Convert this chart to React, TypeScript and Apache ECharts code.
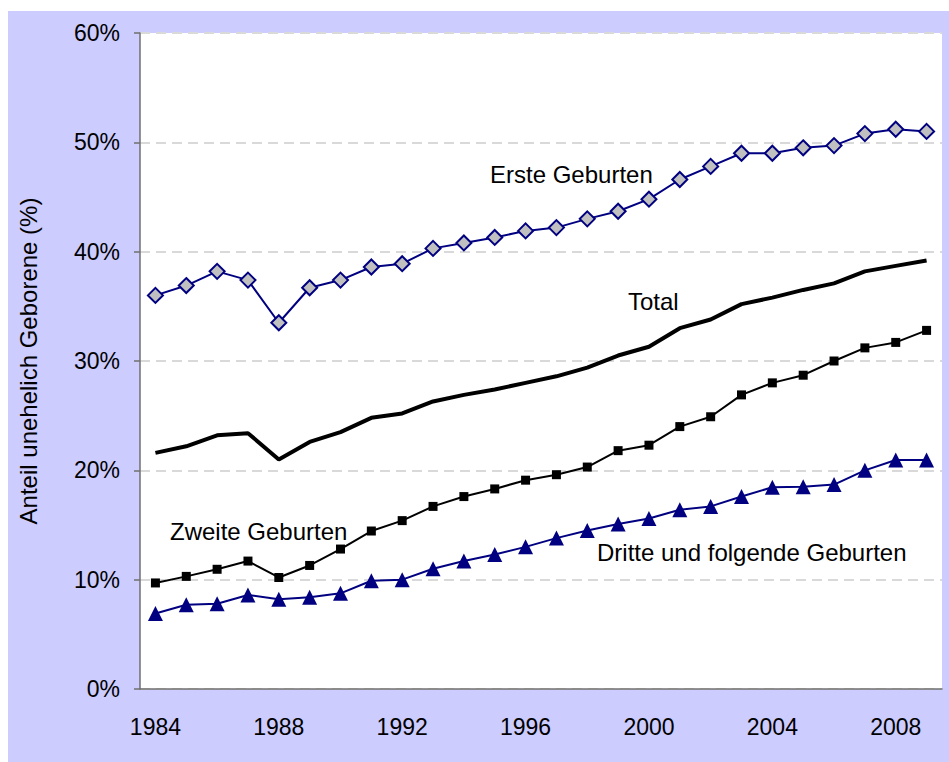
import React, { useEffect, useRef } from "react";
import * as echarts from "echarts";

const years = [
  "1984", "1985", "1986", "1987", "1988", "1989", "1990", "1991", "1992", "1993",
  "1994", "1995", "1996", "1997", "1998", "1999", "2000", "2001", "2002", "2003",
  "2004", "2005", "2006", "2007", "2008", "2009",
];

const erste = [
  36.0, 36.9, 38.2, 37.4, 33.5, 36.7, 37.4, 38.6, 38.9, 40.3,
  40.8, 41.3, 41.9, 42.2, 43.0, 43.7, 44.8, 46.6, 47.8, 49.0,
  49.0, 49.5, 49.7, 50.8, 51.2, 51.0,
];

const total = [
  21.6, 22.2, 23.2, 23.4, 21.0, 22.6, 23.5, 24.8, 25.2, 26.3,
  26.9, 27.4, 28.0, 28.6, 29.4, 30.5, 31.3, 33.0, 33.8, 35.2,
  35.8, 36.5, 37.1, 38.2, 38.7, 39.2,
];

const zweite = [
  9.7, 10.3, 10.95, 11.7, 10.2, 11.3, 12.8, 14.45, 15.4, 16.7,
  17.6, 18.3, 19.1, 19.6, 20.3, 21.8, 22.3, 24.0, 24.9, 26.9,
  28.0, 28.7, 30.0, 31.2, 31.7, 32.8,
];

const dritte = [
  6.9, 7.7, 7.8, 8.6, 8.2, 8.4, 8.75, 9.9, 10.0, 11.0,
  11.7, 12.3, 13.0, 13.8, 14.5, 15.1, 15.6, 16.4, 16.7, 17.6,
  18.45, 18.5, 18.7, 20.0, 20.95, 20.95,
];

const FONT = "'Liberation Sans', Arial, sans-serif";

export default function App() {
  const ref = useRef<HTMLDivElement>(null);

  useEffect(() => {
    if (!ref.current) return;
    const chart = echarts.init(ref.current, null, { renderer: "svg" });
    const labelStyle = (text: string, x: number, y: number) => ({
      type: "text",
      left: x,
      top: y,
      z: 100,
      style: {
        text,
        fill: "#000",
        font: `24px ${FONT}`,
      },
    });
    chart.setOption({
      animation: false,
      backgroundColor: "#ffffff",
      textStyle: { fontFamily: FONT },
      graphic: [
        {
          type: "rect",
          left: 8,
          top: 11,
          z: -10,
          shape: { width: 941, height: 751 },
          style: { fill: "#ccccff" },
        },
        labelStyle("Erste Geburten", 490, 162),
        labelStyle("Total", 628, 289),
        labelStyle("Zweite Geburten", 170, 519),
        labelStyle("Dritte und folgende Geburten", 597, 540),
      ],
      grid: {
        left: 140,
        right: 7,
        top: 33,
        bottom: 73,
        show: true,
        backgroundColor: "#ffffff",
        borderWidth: 0,
      },
      xAxis: {
        type: "category",
        data: years,
        boundaryGap: true,
        axisLine: { lineStyle: { color: "#707070", width: 1.5 } },
        axisTick: {
          interval: 0,
          length: 8,
          lineStyle: { color: "#707070", width: 1.5 },
        },
        axisLabel: {
          interval: 3,
          color: "#000",
          fontSize: 23,
          fontFamily: FONT,
          margin: 26,
        },
        splitLine: { show: false },
      },
      yAxis: {
        type: "value",
        min: 0,
        max: 60,
        interval: 10,
        name: "Anteil unehelich Geborene (%)",
        nameLocation: "middle",
        nameGap: 100,
        nameRotate: 90,
        nameTextStyle: { color: "#000", fontSize: 24, fontFamily: FONT },
        axisLine: { show: true, lineStyle: { color: "#707070", width: 1.5 } },
        axisTick: {
          show: true,
          length: 6,
          lineStyle: { color: "#707070", width: 1.5 },
        },
        axisLabel: {
          color: "#000",
          fontSize: 23,
          fontFamily: FONT,
          margin: 20,
          formatter: "{value}%",
        },
        splitLine: {
          show: true,
          lineStyle: { color: "#d9d9d9", type: [10, 6], width: 2 },
        },
      },
      series: [
        {
          name: "Erste Geburten",
          type: "line",
          data: erste,
          symbol: "diamond",
          symbolSize: 15,
          itemStyle: { color: "#c0c0c0", borderColor: "#000080", borderWidth: 2 },
          lineStyle: { color: "#000080", width: 2 },
          z: 5,
        },
        {
          name: "Total",
          type: "line",
          data: total,
          symbol: "none",
          lineStyle: { color: "#000000", width: 4 },
          z: 4,
        },
        {
          name: "Zweite Geburten",
          type: "line",
          data: zweite,
          symbol: "rect",
          symbolSize: 9,
          itemStyle: { color: "#000000" },
          lineStyle: { color: "#000000", width: 2 },
          z: 4,
        },
        {
          name: "Dritte und folgende Geburten",
          type: "line",
          data: dritte,
          symbol: "triangle",
          symbolSize: 15,
          itemStyle: { color: "#000080" },
          lineStyle: { color: "#000080", width: 2 },
          z: 4,
        },
      ],
    });
    return () => chart.dispose();
  }, []);

  return (
    <div
      ref={ref}
      style={{ position: "absolute", left: 0, top: 0, width: 949, height: 762 }}
    />
  );
}
